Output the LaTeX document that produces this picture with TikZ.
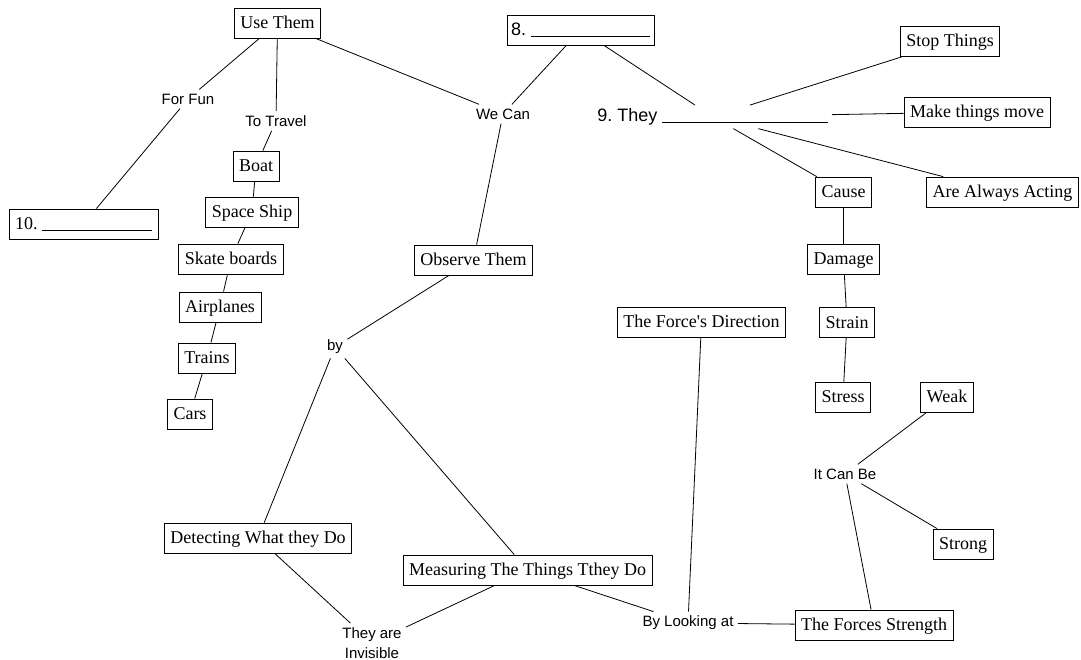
\documentclass[tikz,border=0pt]{standalone}
\usepackage{fontspec}
\setmainfont{Liberation Serif}
\setsansfont{Liberation Sans}
\frenchspacing

\begin{document}
\begin{tikzpicture}[x=1pt, y=-1pt, line width=0.8pt,
        term/.style={draw, fill=white, font=\fontsize{18}{21}\selectfont,
            inner xsep=6pt, inner ysep=6.5pt, text height=14pt, text depth=3pt},
        phrase/.style={font=\sffamily\fontsize{15}{20}\selectfont, inner sep=4pt, align=center}
    ]
    \useasboundingbox (0,0) rectangle (1081,660);

    \node[term] (use) at (277.5,23) {Use Them};
    \node[term, inner xsep=4pt] (eight) at (580.5,30) {\sffamily 8. \rule[-1.5pt]{119pt}{0.8pt}};
    \node[term] (ten) at (83.5,224) {10. \rule[-1.5pt]{110pt}{0.8pt}};
    \node[term] (stop) at (950,41.5) {Stop Things};
    \node[term] (move) at (977,112) {Make things move};
    \node[term] (always) at (1002.5,192) {Are Always Acting};
    \node[term] (cause) at (843.5,192) {Cause};
    \node[term] (damage) at (843.5,259) {Damage};
    \node[term] (strain) at (847,322.5) {Strain};
    \node[term] (stress) at (843,397) {Stress};
    \node[term] (weak) at (947,397) {Weak};
    \node[term] (strong) at (963,544) {Strong};
    \node[term] (strength) at (874,625) {The Forces Strength};
    \node[term] (direction) at (701.5,322) {The Force\textquotesingle s Direction};
    \node[term] (measuring) at (527.5,570) {Measuring The Things Tthey Do};
    \node[term] (detecting) at (258,538) {Detecting What they Do};
    \node[term] (observe) at (473.5,260) {Observe Them};
    \node[term] (boat) at (256,166) {Boat};
    \node[term] (ship) at (252,212) {Space Ship};
    \node[term] (skate) at (231,259) {Skate boards};
    \node[term] (planes) at (220,307) {Airplanes};
    \node[term] (trains) at (207,358) {Trains};
    \node[term] (cars) at (190,414) {Cars};

    \node[phrase] (fun) at (188,99) {For Fun};
    \node[phrase] (travel) at (276,121) {To Travel};
    \node[phrase] (wecan) at (503,114) {We Can};
    \node[phrase] (by) at (335,347) {by};
    \node[phrase] (invisible) at (372,643) {They are\\Invisible};
    \node[phrase] (looking) at (688,623) {By Looking at};
    \node[phrase] (canbe) at (845,474) {It Can Be};
    \node[phrase, font=\sffamily\fontsize{18}{21}\selectfont, anchor=base west, inner sep=3pt]
        (they) at (594,121.5) {9. They \rule[-1.5pt]{166pt}{0.8pt}};

    \draw (use) -- (fun);
    \draw (fun) -- (ten);
    \draw (use) -- (travel);
    \draw (travel) -- (boat);
    \draw (boat) -- (ship);
    \draw (ship) -- (skate);
    \draw (skate) -- (planes);
    \draw (planes) -- (trains);
    \draw (trains) -- (cars);
    \draw (use) -- (wecan);
    \draw (eight) -- (wecan);
    \draw (eight) -- (they);
    \draw (wecan) -- (observe);
    \draw (observe) -- (by);
    \draw (by) -- (detecting);
    \draw (by) -- (measuring);
    \draw (detecting) -- (invisible);
    \draw (measuring) -- (invisible);
    \draw (measuring) -- (looking);
    \draw (direction) -- (looking);
    \draw (looking) -- (strength);
    \draw (strength) -- (canbe);
    \draw (canbe) -- (weak);
    \draw (canbe) -- (strong);
    \draw (they) -- (stop);
    \draw (they) -- (move);
    \draw (they) -- (cause);
    \draw (they) -- (always);
    \draw (cause) -- (damage);
    \draw (damage) -- (strain);
    \draw (strain) -- (stress);
\end{tikzpicture}
\end{document}
